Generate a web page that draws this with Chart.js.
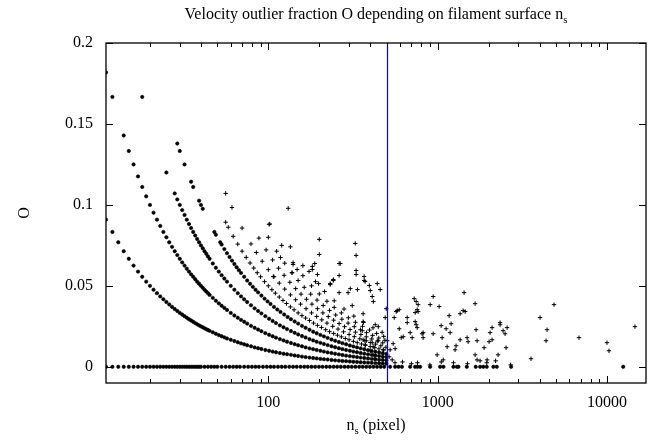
<!DOCTYPE html>
<html>
<head>
<meta charset="utf-8">
<script src="https://cdn.jsdelivr.net/npm/chart.js@4.4.1/dist/chart.umd.min.js"></script>
<style>
  body { margin: 0; background: #fff; }
  #wrap { width: 657px; height: 441px; position: relative; }
</style>
</head>
<body>
<div id="wrap"><canvas id="myChart"></canvas></div>
<script>
/* data: n_s (pixel) and outlier fraction O */
var zeroN = [11,12,13,14,15,16,17,18,19,20,21,22,23,24,25,26,27,28,29,30,31,32,33,34,35,36,37,38,39,40,
  42,44,46,48,50,53,56,59,62,65,68,72,76,80,84,88,93,98,103,108,114,120,126,133,140,147,155,163,171,180,
  189,199,209,220,231,243,255,268,282,296,311,327,344,361,379,398,418,439,461,484,
  524,561,587,615,688,736,760,788,903,1035,1082,1239,1298,1327,1486,1679,1782,1862,1950,2133,2235,2716,12470];

var k1N = [11,12,13,14,15,16,17,18,19,20,21,22,23,24,25,26,27,28,29,30,31,32,33,34,35,36,37,38,39,40,41,42,43,44,45,
  47,49,51,53,55,57,60,63,66,69,72,75,79,83,87,91,96,101,106,111,117,123,129,136,143,150,158,166,175,184,
  193,203,213,224,236,248,261,274,288,303,318,334,351,369,388,408,429,451,474,498];
var k1O = [.0909,.0833,.0769,.0714,.0667,.0625,.0588,.0556,.0526,.05,.0476,.0455,.0435,.0417,.04,.0385,.037,.0357,.0345,.0333,
  .0323,.0313,.0303,.0294,.0286,.0278,.027,.0263,.0256,.025,.0244,.0238,.0233,.0227,.0222,
  .0213,.0204,.0196,.0189,.0182,.0175,.0167,.0159,.0152,.0145,.0139,.0133,.0127,.012,.0115,.011,.0104,.0099,.0094,.009,
  .0085,.0081,.0078,.0074,.007,.0067,.0063,.006,.0057,.0054,.0052,.0049,.0047,.0045,.0042,.004,.0038,.0036,.0035,.0033,
  .0031,.003,.0028,.0027,.0026,.0025,.0023,.0022,.0021,.002];

var k2N = [11,12,14,15,16,17,18,19,20,21,22,23,24,25,26,27,28,29,30,31,32,33,34,35,36,37,38,39,40,41,42,43,44,45,
  47,49,51,53,55,57,60,63,66,69,72,75,79,83,87,91,96,101,106,111,117,123,129,136,143,150,158,166,175,184,
  193,203,213,224,236,248,261,274,288,303,318,334,351,369,388,408,429,451,474,498];
var k2O = [.1818,.1667,.1429,.1333,.125,.1176,.1111,.1053,.1,.0952,.0909,.087,.0833,.08,.0769,.0741,.0714,.069,.0667,.0645,
  .0625,.0606,.0588,.0571,.0556,.0541,.0526,.0513,.05,.0488,.0476,.0465,.0455,.0444,
  .0426,.0408,.0392,.0377,.0364,.0351,.0333,.0317,.0303,.029,.0278,.0267,.0253,.0241,.023,.022,.0208,.0198,.0189,.018,
  .0171,.0163,.0155,.0147,.014,.0133,.0127,.012,.0114,.0109,.0104,.0099,.0094,.0089,.0085,.0081,.0077,.0073,.0069,.0066,
  .0063,.006,.0057,.0054,.0052,.0049,.0047,.0044,.0042,.004];

var k3N = [18,25,28,29,30,31,32,33,34,35,36,37,38,39,40,41,42,43,44,45,
  47,49,51,53,55,57,60,63,66,69,72,75,79,83,87,91,96,101,106,111,117,123,129,136,143,150,158,166,175,184,
  193,203,213,224,236,248,261,274,288,303,318,334,351,369,388,408,429,451,474,498];
var k3O = [.1667,.12,.1071,.1034,.1,.0968,.0938,.0909,.0882,.0857,.0833,.0811,.0789,.0769,.075,.0732,.0714,.0698,.0682,.0667,
  .0638,.0612,.0588,.0566,.0545,.0526,.05,.0476,.0455,.0435,.0417,.04,.038,.0361,.0345,.033,.0313,.0297,.0283,.027,
  .0256,.0244,.0233,.0221,.021,.02,.019,.0181,.0171,.0163,.0155,.0148,.0141,.0134,.0127,.0121,.0115,.0109,.0104,.0099,
  .0094,.009,.0085,.0081,.0077,.0074,.007,.0067,.0063,.006];

var k4N = [29,30,32,35,36,39,40,41,48,49,52,53,55,57,59,61,63,65,67,69,72,75,78,81,84,87,91,95,99,103,
  108,113,118,124,130,136,143,150,158,166,175,184,193,203,213,224,236,248,261,274,288,303,318,334,351,369,388,408,429,451,474,498];
var k4O = [.1379,.1333,.125,.1143,.1111,.1026,.1,.0976,.0833,.0816,.0769,.0755,.0727,.0702,.0678,.0656,.0635,.0615,.0597,.058,
  .0556,.0533,.0513,.0494,.0476,.046,.044,.0421,.0404,.0388,.037,.0354,.0339,.0323,.0308,.0294,.028,.0267,.0253,.0241,
  .0229,.0217,.0207,.0197,.0188,.0179,.0169,.0161,.0153,.0146,.0139,.0132,.0126,.012,.0114,.0108,.0103,.0098,.0093,.0089,.0084,.008];

var k5N = [56,58,62,66,70,74,78,82,86,90,95,100,105,110,116,122,128,135,142,150,158,166,175,185,195,206,218,230,243,256,
  270,285,300,318,335,355,375,400,425,450,480];
var k5O = [.0893,.0862,.0806,.0758,.0714,.0676,.0641,.061,.0581,.0556,.0526,.05,.0476,.0455,.0431,.041,.0391,.037,.0352,.0333,
  .0316,.0301,.0286,.027,.0256,.0243,.0229,.0217,.0206,.0195,.0185,.0175,.0167,.0157,.0149,.0141,.0133,.0125,.0118,.0111,.0104];

var k6N = [56,61,70,79,85,92,100,108,116,125,135,145,155,167,180,193,207,222,240,258,278,300,322,347,372,400,430,462,495];
var k6O = [.1071,.0984,.0857,.0759,.0706,.0652,.06,.0556,.0517,.048,.0444,.0414,.0387,.0359,.0333,.0311,.029,.027,.025,.0233,
  .0216,.02,.0186,.0173,.0161,.015,.014,.013,.0121];

var k7N = [88,97,106,115,124,134,145,156,168,181,195,210,226,243,262,282,304,327,352,379,408,440,474];
var k7O = [.0795,.0722,.066,.0609,.0565,.0522,.0483,.0449,.0417,.0387,.0359,.0333,.031,.0288,.0267,.0248,.023,.0214,.0199,.0185,.0172,.0159,.0148];

var k8N = [100,112,125,138,150,163,178,194,211,230,250,272,296,322,350,380,413,449,488];
var k8O = [.08,.0714,.064,.058,.0533,.0491,.0449,.0412,.0379,.0348,.032,.0294,.027,.0248,.0229,.0211,.0194,.0178,.0164];

var k9N = [102,120,140,160,180,200,222,245,270,297,327,360,396,436,480];
var k9O = [.0882,.075,.0643,.0563,.05,.045,.0405,.0367,.0333,.0303,.0275,.025,.0227,.0206,.0188];

var k10N = [135,160,190,215,245,280,320,365,415,470];
var k10O = [.0741,.0625,.0526,.0465,.0408,.0357,.0313,.0274,.0241,.0213];

var scatN = [200,200,326,330,262,330,330,262,242,368,
  368,336,440,458,395,400,411,417,313,140,
  148,182,188,195,107,138,174,198,232,242,
  266,262,305,296,373,131,101,118,232,182,
  363,363,359,428,446,363,379,373,411,416,
  400,416,422,446,497,490,504,546,561,477,
  524,517,539,554,569,577,593,661,661,688,
  707,593,609,626,727,747,767,737,757,767,
  737,747,757,810,821,821,903,941,1021,1049,
  1063,941,993,1078,1122,1138,1169,1201,1185,1285,
  1268,1357,1414,1453,1433,1664,1357,1493,1513,1664,
  1710,1687,1710,1781,1881,1959,2013,2040,2097,2097,
  2338,2338,2435,2502,2570,2536,2275,2200,3561,4025,
  4426,4367,4869,6836,10000,10275,14630,560,620,700,
  760,900,1050,1240,1500,1950,2700];
var scatO = [.0787,.0694,.0762,.0688,.0638,.0595,.057,.0564,.0533,.0558,
  .0533,.0477,.0514,.0477,.0502,.0471,.0434,.0403,.0378,.0632,
  .0601,.062,.0638,.057,.0558,.0582,.0589,.0514,.0514,.0539,
  .0638,.0458,.0483,.0458,.0527,.0979,.088,.0675,.0508,.0601,
  .0328,.0279,.0223,.026,.0248,.0167,.0161,.0136,.0149,.0124,
  .0099,.0074,.005,.0161,.0359,.0304,.0161,.0143,.0112,.0105,
  .0105,.0062,.0043,.0304,.0341,.0347,.0353,.0304,.0273,.0211,
  .018,.0235,.018,.0186,.0421,.0403,.0384,.0335,.0353,.0341,
  .0279,.026,.0242,.0204,.0211,.018,.0384,.0434,.0372,.0254,
  .018,.0204,.0074,.0043,.0235,.0124,.0316,.0266,.0211,.013,
  .0105,.0328,.0347,.0341,.0458,.039,.0167,.018,.0155,.0074,
  .0043,.0229,.0161,.0037,.0118,.0043,.0155,.0211,.0242,.0167,
  .0273,.026,.0223,.0204,.0242,.0118,.0074,.0037,.005,.0304,
  .0229,.0161,.0384,.018,.0149,.0099,.0248,.0025,.003,.0019,
  .0025,.0012,.003,.0025,.0019,.0025,.0012];

var cutN = 500; // blue vertical line
var xTicks = [100, 1000, 10000];
var xMinor = [20,30,40,50,60,70,80,90,200,300,400,500,600,700,800,900,2000,3000,4000,5000,6000,7000,8000,9000];
var yTicks = [0, 0.05, 0.1, 0.15, 0.2];

var serif = '"Liberation Serif", "Times New Roman", serif';

function pts(xs, ys) {
  return xs.map(function (x, i) { return {x: x, y: ys[i]}; });
}

// dense curves: small filled dots; sparse ones: little crosses
function dense(data) {
  return {
    data: data,
    showLine: false,
    pointStyle: 'circle',
    pointRadius: 1.7,
    pointBorderWidth: 0.6,
    pointBorderColor: '#000',
    pointBackgroundColor: '#000'
  };
}
function sparse(data) {
  return {
    data: data,
    showLine: false,
    pointStyle: 'cross',
    pointRadius: 2.2,
    pointBorderWidth: 1,
    pointBorderColor: '#000',
    pointBackgroundColor: '#000'
  };
}

// draws text pieces, some of them as subscripts
function drawParts(ctx, parts, cx, base) {
  var big = '16px ' + serif, small = '11px ' + serif;
  var w = 0;
  parts.forEach(function (p) { ctx.font = p[1] ? small : big; w += ctx.measureText(p[0]).width; });
  var x = cx - w / 2;
  ctx.textAlign = 'left';
  ctx.textBaseline = 'alphabetic';
  parts.forEach(function (p) {
    ctx.font = p[1] ? small : big;
    ctx.fillText(p[0], x, p[1] ? base + 4 : base);
    x += ctx.measureText(p[0]).width;
  });
}

var frame = {
  id: 'frame',
  afterDatasetsDraw: function (chart) {
    var ctx = chart.ctx, a = chart.chartArea, x = chart.scales.x, y = chart.scales.y;
    ctx.save();
    // blue line at n_s = 500
    var bx = Math.round(x.getPixelForValue(cutN)) + 0.5;
    ctx.strokeStyle = '#0000ff';
    ctx.lineWidth = 1.2;
    ctx.beginPath(); ctx.moveTo(bx, a.top); ctx.lineTo(bx, a.bottom); ctx.stroke();

    // border
    ctx.strokeStyle = '#000';
    ctx.lineWidth = 1.3;
    ctx.strokeRect(a.left, a.top, a.right - a.left, a.bottom - a.top);

    // inward ticks, mirrored
    ctx.lineWidth = 1;
    ctx.beginPath();
    yTicks.forEach(function (v) {
      var p = Math.round(y.getPixelForValue(v)) + 0.5;
      ctx.moveTo(a.left, p); ctx.lineTo(a.left + 7, p);
      ctx.moveTo(a.right, p); ctx.lineTo(a.right - 7, p);
    });
    xTicks.forEach(function (v) {
      var p = Math.round(x.getPixelForValue(v)) + 0.5;
      ctx.moveTo(p, a.bottom); ctx.lineTo(p, a.bottom - 7);
      ctx.moveTo(p, a.top); ctx.lineTo(p, a.top + 7);
    });
    xMinor.forEach(function (v) {
      var p = Math.round(x.getPixelForValue(v)) + 0.5;
      ctx.moveTo(p, a.bottom); ctx.lineTo(p, a.bottom - 4);
      ctx.moveTo(p, a.top); ctx.lineTo(p, a.top + 4);
    });
    ctx.stroke();

    // titles
    ctx.fillStyle = '#000';
    var cx = (a.left + a.right) / 2;
    drawParts(ctx, [['Velocity outlier fraction O depending on filament surface n', false], ['s', true]], cx, 19);
    drawParts(ctx, [['n', false], ['s', true], [' (pixel)', false]], cx, 430);

    ctx.translate(25, (a.top + a.bottom) / 2);
    ctx.rotate(-Math.PI / 2);
    ctx.font = '16px ' + serif;
    ctx.textAlign = 'center';
    ctx.textBaseline = 'middle';
    ctx.fillText('O', 0, 0);
    ctx.restore();
  }
};

Chart.defaults.font.family = serif;
Chart.defaults.font.size = 16;
Chart.defaults.color = '#000';

new Chart('myChart', {
  type: 'scatter',
  data: {
    datasets: [
      dense(pts(zeroN, zeroN.map(function () { return 0; }))),
      dense(pts(k1N, k1O)),
      dense(pts(k2N, k2O)),
      dense(pts(k3N, k3O)),
      dense(pts(k4N, k4O)),
      sparse(pts(k5N, k5O)),
      sparse(pts(k6N, k6O)),
      sparse(pts(k7N, k7O)),
      sparse(pts(k8N, k8O)),
      sparse(pts(k9N, k9O)),
      sparse(pts(k10N, k10O)),
      sparse(pts(scatN, scatO))
    ]
  },
  options: {
    responsive: true,
    maintainAspectRatio: false,
    animation: false,
    layout: { autoPadding: false, padding: { top: 43, right: 11, left: 0, bottom: 0 } },
    plugins: { legend: { display: false }, tooltip: { enabled: false } },
    scales: {
      x: {
        type: 'logarithmic',
        min: 11,
        max: 17000,
        grid: { display: false, drawTicks: false },
        border: { display: false },
        afterBuildTicks: function (s) { s.ticks = xTicks.map(function (v) { return {value: v}; }); },
        afterFit: function (s) { s.height = 58; },
        ticks: { padding: 10, maxRotation: 0, autoSkip: false, callback: function (v) { return String(v); } }
      },
      y: {
        type: 'linear',
        min: -0.01,
        max: 0.2,
        grid: { display: false, drawTicks: false },
        border: { display: false },
        afterBuildTicks: function (s) { s.ticks = yTicks.map(function (v) { return {value: v}; }); },
        afterFit: function (s) { s.width = 106; },
        ticks: { padding: 13, callback: function (v) { return String(v); } }
      }
    }
  },
  plugins: [frame]
});
</script>
</body>
</html>
